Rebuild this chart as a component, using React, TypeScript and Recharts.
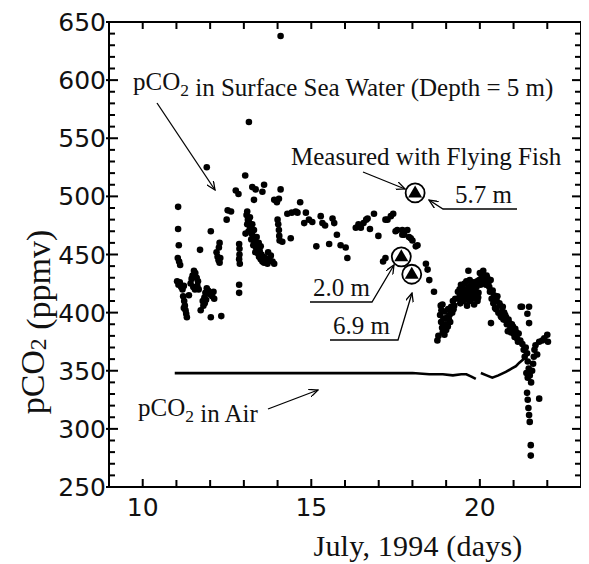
import React from "react";
import { ScatterChart, Scatter, XAxis, YAxis } from "recharts";

// ticks
const X_TICKS = [9, 10, 11, 12, 13, 14, 15, 16, 17, 18, 19, 20, 21, 22, 23];
const X_LABELS = [10, 15, 20];
const Y_TICKS = [
  250, 260, 270, 280, 290, 300, 310, 320, 330, 340, 350, 360, 370, 380, 390, 400,
  410, 420, 430, 440, 450, 460, 470, 480, 490, 500, 510, 520, 530, 540, 550, 560,
  570, 580, 590, 600, 610, 620, 630, 640, 650,
];

// pCO2 in surface sea water, [day, ppmv]
const seaJul11: [number, number][] = [
  [11.05, 491], [11.05, 472], [11.07, 458], [11.04, 447], [11.08, 444], [11.11, 441],
  [11.02, 427], [11.06, 424], [11.1, 426], [11.14, 422], [11.18, 420], [11.22, 423],
  [11.2, 414], [11.23, 410], [11.25, 406], [11.27, 402], [11.29, 399], [11.31, 396], [11.22, 404],
  [11.37, 415], [11.42, 425], [11.45, 429], [11.48, 432], [11.52, 436], [11.56, 434], [11.6, 430],
  [11.64, 427], [11.5, 422], [11.55, 420], [11.62, 423], [11.66, 420],
  [11.7, 454], [11.72, 402], [11.78, 410], [11.8, 406], [11.83, 413], [11.86, 417], [11.9, 421],
  [11.94, 419], [11.98, 416], [11.88, 411], [11.84, 408], [11.9, 525],
];
const seaJul12: [number, number][] = [
  [12.02, 470], [12.02, 396], [12.06, 414], [12.1, 418], [12.12, 412],
  [12.19, 452], [12.22, 448], [12.25, 445], [12.28, 443], [12.3, 447], [12.26, 456], [12.28, 460],
  [12.33, 397], [12.49, 480], [12.52, 488], [12.62, 487],
  [12.76, 505], [12.84, 502], [12.86, 459], [12.87, 455], [12.87, 450], [12.86, 446], [12.88, 442],
  [12.86, 424], [12.86, 417],
];
const seaJul13: [number, number][] = [
  [13.04, 518], [13.15, 564], [13.25, 508], [13.35, 506], [13.55, 504], [13.6, 510], [13.3, 497],
  [13.9, 497], [13.98, 495],
  [13.05, 468], [13.08, 484], [13.1, 487], [13.12, 480], [13.1, 476], [13.15, 478], [13.18, 482],
  [13.18, 474], [13.14, 470], [13.2, 471], [13.23, 468], [13.25, 476], [13.22, 463], [13.27, 466],
  [13.3, 462], [13.3, 471], [13.28, 458], [13.33, 460], [13.36, 456], [13.38, 465], [13.34, 452],
  [13.4, 455], [13.42, 451], [13.44, 460], [13.45, 448], [13.47, 453], [13.5, 446], [13.5, 457],
  [13.52, 450], [13.55, 444], [13.58, 448], [13.6, 443], [13.63, 447], [13.66, 445], [13.7, 442],
  [13.72, 452], [13.75, 446], [13.8, 449], [13.85, 444], [13.9, 442],
];
const seaJul14: [number, number][] = [
  [14.09, 638], [14.09, 506], [14.04, 498], [14.0, 480], [14.02, 476], [14.04, 471], [14.05, 466],
  [14.06, 462], [14.14, 461], [14.29, 485], [14.39, 464], [14.42, 486], [14.54, 487], [14.59, 486],
  [14.67, 495], [14.79, 477], [14.84, 486], [14.93, 480],
];
const seaJul15: [number, number][] = [
  [15.03, 478], [15.15, 457], [15.28, 483], [15.33, 477], [15.41, 475], [15.53, 459], [15.63, 481],
  [15.68, 477], [15.76, 467], [15.87, 458],
];
const seaJul16: [number, number][] = [
  [16.02, 456], [16.07, 447], [16.32, 473], [16.4, 476], [16.47, 473], [16.55, 477], [16.63, 480],
  [16.67, 481], [16.74, 472], [16.86, 485], [16.99, 466],
];
const seaJul17: [number, number][] = [
  [17.13, 444], [17.2, 447], [17.2, 480], [17.26, 480], [17.36, 483], [17.43, 485], [17.5, 470],
  [17.55, 471], [17.7, 471], [17.85, 471], [17.7, 467], [17.9, 465], [17.75, 467], [17.95, 464],
  [18.0, 462],
];
const seaJul18: [number, number][] = [
  [18.1, 457], [18.15, 458], [18.4, 442], [18.45, 437], [18.5, 428], [18.64, 418], [18.74, 376],
  [18.77, 380], [18.84, 406], [18.89, 407], [18.82, 398], [18.85, 392], [18.88, 387], [18.92, 395],
  [18.95, 401], [18.98, 390], [19.0, 385], [19.03, 396], [19.06, 403], [19.1, 398], [19.12, 392],
  [19.15, 405], [19.18, 400], [19.2, 410], [19.24, 406], [19.27, 412], [18.9, 383], [18.95, 381],
  [19.05, 388], [18.86, 402], [18.93, 389], [19.08, 394], [19.14, 401], [19.22, 403],
];
const seaJul19: [number, number][] = [
  [19.35, 418], [19.38, 412], [19.4, 420], [19.42, 408], [19.45, 415], [19.48, 422], [19.5, 410],
  [19.52, 418], [19.55, 425], [19.58, 413], [19.6, 420], [19.62, 406], [19.65, 416], [19.66, 436],
  [19.68, 422], [19.7, 410], [19.72, 418], [19.75, 425], [19.78, 412], [19.8, 420], [19.83, 407],
  [19.86, 415], [19.9, 422], [19.93, 410], [19.96, 417], [19.98, 428], [20.0, 434], [20.05, 430],
  [20.1, 436], [20.15, 428], [20.2, 432], [20.25, 425],
  [19.4, 414], [19.44, 424], [19.5, 416], [19.56, 419], [19.6, 427], [19.64, 411], [19.7, 428],
  [19.74, 414], [19.78, 422], [19.82, 426], [19.88, 418], [19.92, 427], [19.95, 413], [20.02, 424],
  [20.08, 427], [20.12, 432], [20.18, 424], [20.22, 430],
];
const seaJul20: [number, number][] = [
  [20.3, 418], [20.33, 391], [20.35, 412], [20.4, 408], [20.42, 415], [20.45, 404], [20.5, 410],
  [20.55, 400], [20.6, 406], [20.62, 397], [20.66, 401], [20.7, 394], [20.75, 398], [20.8, 390],
  [20.85, 394], [20.9, 386], [20.95, 390], [21.0, 382], [21.05, 386], [21.1, 378], [21.15, 382],
  [21.2, 376], [21.21, 405], [21.25, 405], [21.41, 399], [21.46, 405], [21.46, 391],
  [20.28, 422], [20.32, 428], [20.38, 419], [20.44, 411], [20.48, 403], [20.52, 414], [20.58, 408],
  [20.64, 396], [20.68, 405], [20.72, 400], [20.78, 396], [20.83, 384], [20.88, 391], [20.93, 383],
  [20.98, 388], [21.03, 379], [21.08, 383], [21.13, 375],
];
const seaJul21: [number, number][] = [
  [21.26, 373], [21.3, 368], [21.33, 362], [21.36, 370], [21.4, 365], [21.42, 358], [21.45, 352],
  [21.38, 348], [21.42, 344], [21.48, 346], [21.52, 340], [21.55, 350], [21.58, 356], [21.6, 362],
  [21.62, 368], [21.65, 372], [21.7, 364], [21.76, 326], [21.76, 375], [21.85, 376], [21.91, 378],
  [22.0, 381], [22.02, 375], [21.4, 331], [21.42, 325], [21.44, 318], [21.46, 312], [21.48, 306],
  [21.51, 286], [21.51, 277],
];

// pCO2 in air (gap around day 19.95)
const airDaysA = [10.95, 11.5, 12.0, 12.5, 13.0, 13.5, 14.0, 14.5, 15.0, 15.5, 16.0, 16.5, 17.0, 17.5, 18.0, 18.5, 18.9, 19.2, 19.45, 19.6, 19.75, 19.88];
const airPco2A = [348, 348, 348, 348, 348, 348, 348, 348, 348, 348, 348, 348, 348, 348, 348, 347, 347, 346, 347, 347, 345, 343];
const airDaysB = [20.03, 20.2, 20.37, 20.55, 20.77, 20.95, 21.07, 21.17, 21.3, 21.4];
const airPco2B = [348, 346, 344, 346, 349, 352, 354, 357, 360, 364];

// Flying Fish measurements (5.7 m, 2.0 m, 6.9 m)
const fishDays = [18.08, 17.67, 17.98];
const fishPco2 = [503, 448, 433];

const toPts = (rows: [number, number][]) => rows.map(([day, pco2]) => ({ day, pco2 }));
const seaData = toPts([
  ...seaJul11, ...seaJul12, ...seaJul13, ...seaJul14, ...seaJul15, ...seaJul16,
  ...seaJul17, ...seaJul18, ...seaJul19, ...seaJul20, ...seaJul21,
]);
const airA = airDaysA.map((day, i) => ({ day, pco2: airPco2A[i] }));
const airB = airDaysB.map((day, i) => ({ day, pco2: airPco2B[i] }));
const fishData = fishDays.map((day, i) => ({ day, pco2: fishPco2[i] }));

const SANS = "DejaVu Sans";
const SERIF = "Liberation Serif";
const INK = "#000";

// inward ticks: long at every 50 ppmv, short every 10
function LeftTick(props: any) {
  const x = Number(props.x);
  const y = Number(props.y);
  const v = props.payload.value;
  const major = v % 50 === 0;
  return (
    <g>
      <rect x={major ? x - 3 : x} y={y - 1} width={major ? 12 : 6} height={2} fill={INK} />
      {major && (
        <text x={x - 3} y={y} dy="0.36em" textAnchor="end" fontFamily={SANS} fontSize={25} fill="#111">
          {v}
        </text>
      )}
    </g>
  );
}

function RightTick(props: any) {
  const x = Number(props.x);
  const y = Number(props.y);
  const major = props.payload.value % 50 === 0;
  return <rect x={x - (major ? 9 : 6)} y={y - 1} width={major ? 12 : 6} height={2} fill={INK} />;
}

function BottomTick(props: any) {
  const x = Number(props.x);
  const y = Number(props.y);
  const v = props.payload.value;
  const labelled = X_LABELS.includes(v);
  const len = labelled ? 8 : 7;
  return (
    <g>
      <rect x={x - 1} y={y - len} width={2} height={len} fill={INK} />
      {labelled && (
        <text x={x} y={y + 20} dy="0.36em" textAnchor="middle" fontFamily={SANS} fontSize={25} fill="#111">
          {v}
        </text>
      )}
    </g>
  );
}

function TopTick(props: any) {
  const x = Number(props.x);
  const y = Number(props.y);
  return <rect x={x - 1} y={y} width={2} height={7} fill={INK} />;
}

const SeaDot = (p: any) => <circle cx={p.cx} cy={p.cy} r={3.3} fill="#000" />;
const NoDot = () => <g />;
const FishMarker = (p: any) => {
  const { cx, cy } = p;
  return (
    <g>
      <circle cx={cx} cy={cy} r={9.5} fill="#fff" stroke="#000" strokeWidth={1.8} />
      <path d={`M${cx},${cy - 7.5} L${cx + 7},${cy + 4.5} L${cx - 7},${cy + 4.5} Z`} fill="#000" />
    </g>
  );
};

const Sub = ({ children }: { children: React.ReactNode }) => (
  <>
    <tspan dy="6" fontSize="0.7em">{children}</tspan>
    <tspan dy="-6"></tspan>
  </>
);

function Annotations() {
  return (
    <svg width={581} height={556} style={{ position: "absolute", left: 0, top: 0, pointerEvents: "none" }}>
      <defs>
        <marker id="arr" markerWidth="10" markerHeight="8" refX="9" refY="4" orient="auto" markerUnits="userSpaceOnUse">
          <path d="M0,0 L9,4 L0,8" fill="none" stroke="#000" strokeWidth={1.3} />
        </marker>
      </defs>
      <g fontFamily={SERIF} fontSize={25} fill="#111">
        <text x={125} y={82}>
          pCO<Sub>2</Sub> in Surface Sea Water (Depth = 5 m)
        </text>
        <text x={283} y={157}>Measured with Flying Fish</text>
        <text x={447} y={195}>5.7 m</text>
        <text x={305} y={288}>2.0 m</text>
        <text x={325} y={326}>6.9 m</text>
        <text x={130} y={408}>
          pCO<Sub>2</Sub> in Air
        </text>
      </g>
      <g stroke="#000" strokeWidth={1.3} fill="none">
        <line x1={149} y1={95} x2={207} y2={182} markerEnd="url(#arr)" />
        <line x1={355} y1={164} x2={397} y2={181} markerEnd="url(#arr)" />
        <polyline points="509,201 435,201 421,192" markerEnd="url(#arr)" />
        <polyline points="302,294 364,294 386,257" markerEnd="url(#arr)" />
        <polyline points="322,332 390,332 404,285" markerEnd="url(#arr)" />
        <line x1={260} y1={401} x2={310} y2={382} markerEnd="url(#arr)" />
      </g>
      <text x={410} y={548} textAnchor="middle" fontFamily={SERIF} fontSize={30} letterSpacing={0.2} fill="#111">
        July, 1994 (days)
      </text>
      <text
        x={24} y={314} textAnchor="middle" dominantBaseline="central" transform="rotate(-90 24 314)"
        fontFamily={SERIF} fontSize={34} fill="#111"
      >
        pCO<Sub>2</Sub> (ppmv)
      </text>
    </svg>
  );
}

export default function App() {
  return (
    <div style={{ position: "relative", width: 581, height: 556 }}>
      <ScatterChart width={581} height={556} margin={{ top: 0, right: 0, bottom: 0, left: 0 }}>
        <XAxis
          dataKey="day" type="number" domain={[9, 23]} ticks={X_TICKS} interval={0}
          height={77} tickSize={0} tickMargin={0} tickLine={false} tick={<BottomTick />}
          axisLine={{ stroke: "#000", strokeWidth: 2 }}
        />
        <XAxis
          xAxisId="top" dataKey="day" orientation="top" type="number" domain={[9, 23]} ticks={X_TICKS} interval={0}
          height={14} tickSize={0} tickMargin={0} tickLine={false} tick={<TopTick />}
          axisLine={{ stroke: "#000", strokeWidth: 2 }}
        />
        <YAxis
          dataKey="pco2" type="number" domain={[250, 650]} ticks={Y_TICKS} interval={0}
          width={101} tickSize={0} tickMargin={0} tickLine={false} tick={<LeftTick />}
          axisLine={{ stroke: "#000", strokeWidth: 2 }}
        />
        <YAxis
          yAxisId="right" dataKey="pco2" orientation="right" type="number" domain={[250, 650]} ticks={Y_TICKS} interval={0}
          width={8} tickSize={0} tickMargin={0} tickLine={false} tick={<RightTick />}
          axisLine={{ stroke: "#000", strokeWidth: 2 }}
        />
        <Scatter data={seaData} shape={SeaDot} isAnimationActive={false} />
        <Scatter data={airA} shape={NoDot} line={{ stroke: "#000", strokeWidth: 2.6 }} lineType="joint" isAnimationActive={false} />
        <Scatter data={airB} shape={NoDot} line={{ stroke: "#000", strokeWidth: 2.6 }} lineType="joint" isAnimationActive={false} />
        <Scatter data={fishData} shape={FishMarker} isAnimationActive={false} />
        {/* binds the top and right frame axes */}
        <Scatter data={fishData} xAxisId="top" yAxisId="right" shape={NoDot} isAnimationActive={false} />
      </ScatterChart>
      <Annotations />
    </div>
  );
}
